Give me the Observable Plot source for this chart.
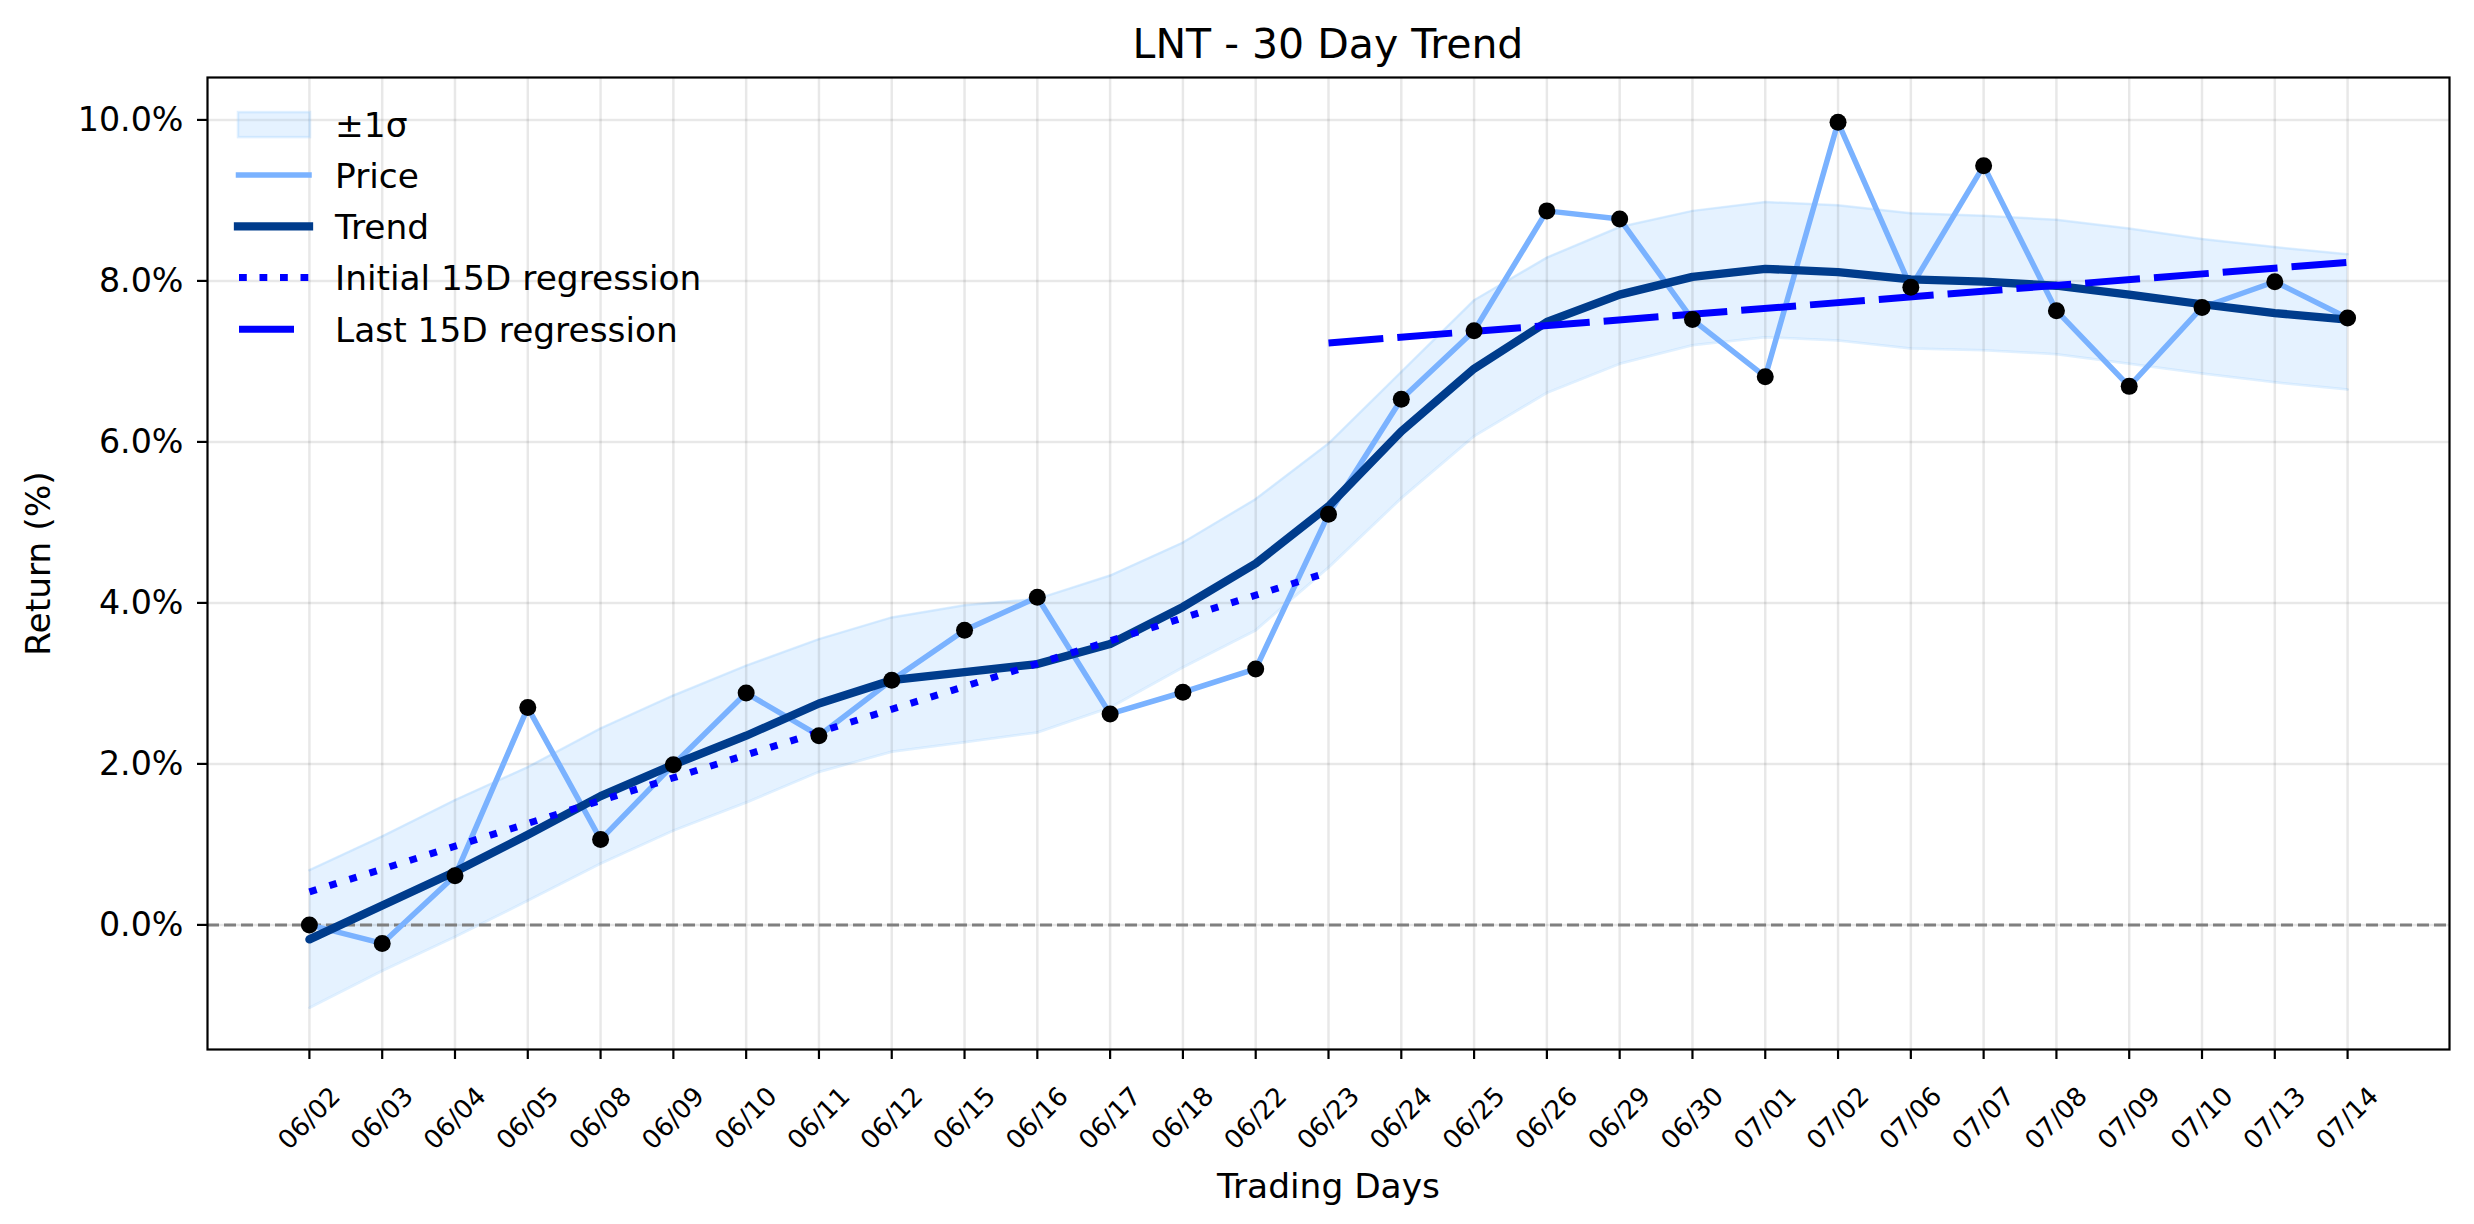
<!DOCTYPE html>
<html>
<head>
<meta charset="utf-8">
<script src="https://cdn.jsdelivr.net/npm/d3@7"></script>
<script src="https://cdn.jsdelivr.net/npm/@observablehq/plot@0.6"></script>
<style>
  html, body { margin: 0; padding: 0; background: #fff; }
  #wrap { position: relative; width: 2474px; height: 1224px; font-family: "DejaVu Sans", sans-serif; color: #000; background: #fff; }
  #title { height: 60px; box-sizing: border-box; padding: 24px 25px 0 207px; line-height: 41px; font-size: 41px; text-align: center; white-space: nowrap; overflow: visible; }
  #chart svg { display: block; }
  .lrow { position: absolute; left: 232px; height: 51.2px; width: 700px; }
  .lrow svg { position: absolute; left: 0; top: 0; overflow: visible; }
  .lrow span { position: absolute; left: 103px; top: 0; font-size: 34.4px; line-height: 51.2px; white-space: nowrap; }
</style>
</head>
<body>
<div id="wrap">
  <div id="title">LNT - 30 Day Trend</div>
  <div id="chart"></div>
  <div id="legend"></div>
</div>
<script>
// ---- data ----
const dates = ["06/02","06/03","06/04","06/05","06/08","06/09","06/10","06/11","06/12","06/15",
  "06/16","06/17","06/18","06/22","06/23","06/24","06/25","06/26","06/29","06/30",
  "07/01","07/02","07/06","07/07","07/08","07/09","07/10","07/13","07/14"];
const price = [0.00, -0.23, 0.61, 2.70, 1.06, 1.99, 2.88, 2.35, 3.04, 3.66,
  4.07, 2.62, 2.89, 3.18, 5.10, 6.53, 7.38, 8.87, 8.77, 7.52,
  6.81, 9.97, 7.92, 9.43, 7.63, 6.69, 7.67, 7.99, 7.54];
const trend = [-0.18, 0.24, 0.66, 1.12, 1.60, 1.99, 2.35, 2.75, 3.04, 3.14,
  3.24, 3.49, 3.95, 4.49, 5.20, 6.13, 6.91, 7.49, 7.83, 8.05,
  8.15, 8.11, 8.02, 7.99, 7.94, 7.83, 7.71, 7.60, 7.52];
const upper = [0.68, 1.10, 1.55, 1.96, 2.44, 2.85, 3.22, 3.55, 3.82, 3.97,
  4.05, 4.34, 4.75, 5.29, 5.98, 6.87, 7.76, 8.29, 8.67, 8.87,
  8.98, 8.94, 8.84, 8.81, 8.76, 8.65, 8.52, 8.42, 8.33];
const lower = [-1.03, -0.57, -0.15, 0.30, 0.76, 1.17, 1.52, 1.90, 2.15, 2.27,
  2.39, 2.70, 3.20, 3.66, 4.44, 5.30, 6.07, 6.61, 6.97, 7.20,
  7.30, 7.26, 7.16, 7.14, 7.09, 6.97, 6.85, 6.74, 6.65];
const initRegX = [0, 14], initRegY = [0.41, 4.38];
const lastRegX = [14, 28], lastRegY = [7.23, 8.23];
const yTicks = [0, 2, 4, 6, 8, 10];
const legendLabels = ["±1σ", "Price", "Trend", "Initial 15D regression", "Last 15D regression"];

// ---- styles ----
const C = { band: "#99ccff", price: "#7ab2ff", trend: "#003c8c", reg: "#0000ff", zero: "#808080" };

const idx = dates.map((d, i) => i);
const rows = dates.map((d, i) => ({ i, date: d, price: price[i], trend: trend[i], upper: upper[i], lower: lower[i] }));
const initReg = initRegX.map((x, k) => ({ x, y: initRegY[k] }));
const lastReg = lastRegX.map((x, k) => ({ x, y: lastRegY[k] }));

const gridStyle = { stroke: "#000", strokeOpacity: 0.09, strokeWidth: 2.5 };

const chart = Plot.plot({
  width: 2474, height: 1164,
  marginTop: 17, marginBottom: 175, marginLeft: 207, marginRight: 25,
  style: { fontFamily: '"DejaVu Sans", sans-serif', fontSize: "33.3px", background: "#fff", color: "#000", overflow: "visible" },
  x: { type: "linear", domain: [-1.4, 29.4] },
  y: { domain: [-1.548, 10.527] },
  marks: [
    Plot.areaY(rows, { x: "i", y1: "lower", y2: "upper", fill: C.band, fillOpacity: 0.25 }),
    Plot.lineY(rows, { x: "i", y: "upper", stroke: C.band, strokeOpacity: 0.3, strokeWidth: 2.5 }),
    Plot.lineY(rows, { x: "i", y: "lower", stroke: C.band, strokeOpacity: 0.3, strokeWidth: 2.5 }),
    Plot.gridX(idx, gridStyle),
    Plot.gridY(yTicks, gridStyle),
    Plot.ruleY([0], { stroke: C.zero, strokeWidth: 3, strokeDasharray: "12,5" }),
    Plot.lineY(rows, { x: "i", y: "price", stroke: C.price, strokeWidth: 5.5 }),
    Plot.lineY(rows, { x: "i", y: "trend", stroke: C.trend, strokeWidth: 8.3 }),
    Plot.line(initReg, { x: "x", y: "y", stroke: C.reg, strokeWidth: 7, strokeDasharray: "7.5,13.5", strokeLinecap: "butt" }),
    Plot.line(lastReg, { x: "x", y: "y", stroke: C.reg, strokeWidth: 7, strokeDasharray: "55,14", strokeLinecap: "butt" }),
    Plot.dot(rows, { x: "i", y: "price", r: 8.5, fill: "#000" }),
    Plot.frame({ stroke: "#000", strokeWidth: 2.2 }),
    Plot.axisY(yTicks, { tickSize: 10, tickPadding: 14, tickFormat: d => d.toFixed(1) + "%", label: null, strokeWidth: 2.2 }),
    Plot.axisX(idx, { tickSize: 10, tickFormat: () => "", label: null, strokeWidth: 2.2 }),
    Plot.text(rows, { x: "i", text: "date", frameAnchor: "bottom", dy: 69, rotate: -45, textAnchor: "middle", lineAnchor: "middle", fontSize: 26 }),
    Plot.text(["Trading Days"], { text: d => d, frameAnchor: "bottom", dy: 137, lineAnchor: "middle", textAnchor: "middle", fontSize: 34.4 }),
    Plot.text(["Return (%)"], { text: d => d, frameAnchor: "left", dx: -168.4, rotate: -90, lineAnchor: "middle", textAnchor: "middle", fontSize: 34.4 })
  ]
});
document.getElementById("chart").appendChild(chart);

// ---- legend (inside the axes, upper left) ----
const handles = [
  `<rect x="6" y="12.1" width="72" height="25" fill="${C.band}" fill-opacity="0.25" stroke="${C.band}" stroke-opacity="0.3" stroke-width="2.5"/>`,
  `<line x1="6.5" x2="77" y1="24.1" y2="24.1" stroke="${C.price}" stroke-width="5.5" stroke-linecap="square"/>`,
  `<line x1="6" x2="77" y1="24.3" y2="24.3" stroke="${C.trend}" stroke-width="8.3" stroke-linecap="square"/>`,
  `<line x1="7" x2="78" y1="24.6" y2="24.6" stroke="${C.reg}" stroke-width="7" stroke-dasharray="7.8,12.7" stroke-linecap="butt"/>`,
  `<line x1="7" x2="74" y1="24.3" y2="24.3" stroke="${C.reg}" stroke-width="7" stroke-dasharray="55,14" stroke-linecap="butt"/>`
];
const leg = document.getElementById("legend");
legendLabels.forEach((lab, k) => {
  const row = document.createElement("div");
  row.className = "lrow";
  row.style.top = (99.6 + k * 51.25) + "px";
  row.innerHTML = `<svg width="90" height="51.2">${handles[k]}</svg><span></span>`;
  row.querySelector("span").textContent = lab;
  leg.appendChild(row);
});
</script>
</body>
</html>
